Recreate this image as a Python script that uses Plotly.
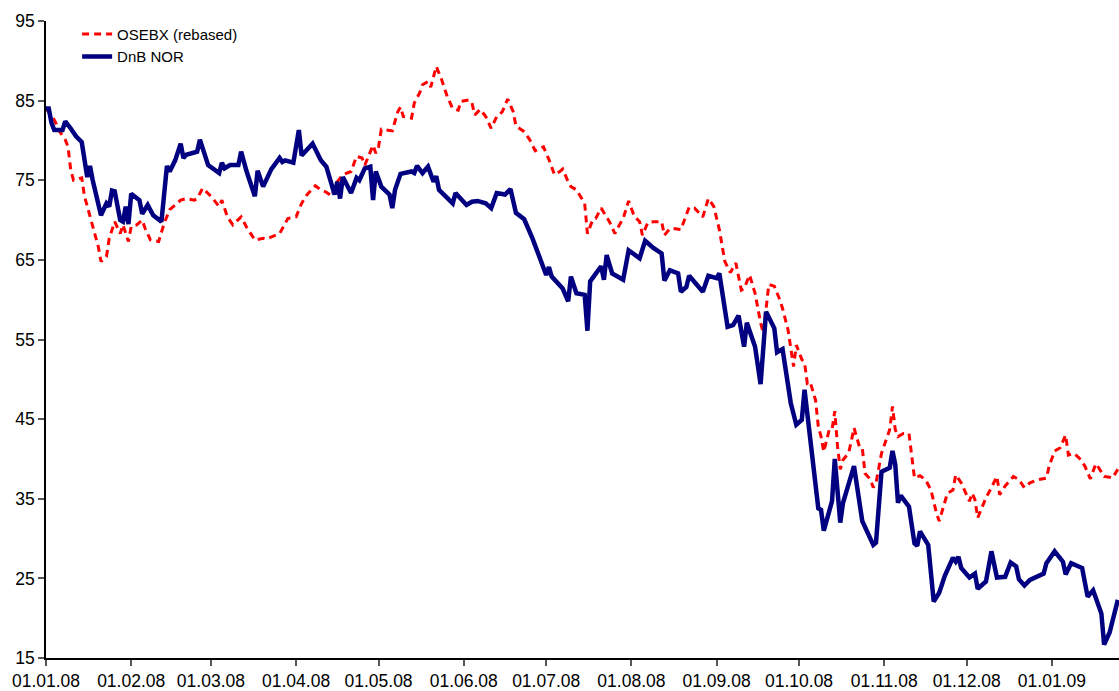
import plotly.graph_objects as go

# ---- data ----
osebx_dates = [
    "2008-01-01", "2008-01-04", "2008-01-06", "2008-01-08", "2008-01-09", "2008-01-10", "2008-01-11",
    "2008-01-14", "2008-01-15", "2008-01-17", "2008-01-18", "2008-01-20", "2008-01-21", "2008-01-23",
    "2008-01-24", "2008-01-26", "2008-01-28", "2008-01-29", "2008-01-31", "2008-02-01", "2008-02-03",
    "2008-02-05", "2008-02-06", "2008-02-08", "2008-02-11", "2008-02-13", "2008-02-15", "2008-02-19",
    "2008-02-21", "2008-02-24", "2008-02-25", "2008-02-27", "2008-03-01", "2008-03-04", "2008-03-05",
    "2008-03-07", "2008-03-09", "2008-03-12", "2008-03-14", "2008-03-17", "2008-03-20", "2008-03-21",
    "2008-03-26", "2008-03-27", "2008-03-29", "2008-04-01", "2008-04-03", "2008-04-05", "2008-04-08",
    "2008-04-10", "2008-04-12", "2008-04-14", "2008-04-16", "2008-04-18", "2008-04-21", "2008-04-23",
    "2008-04-25", "2008-04-26", "2008-04-29", "2008-04-30", "2008-05-01", "2008-05-02", "2008-05-06",
    "2008-05-08", "2008-05-09", "2008-05-10", "2008-05-13", "2008-05-14", "2008-05-16", "2008-05-17",
    "2008-05-19", "2008-05-20", "2008-05-21", "2008-05-22", "2008-05-24", "2008-05-26", "2008-05-28",
    "2008-05-30", "2008-05-31", "2008-06-03", "2008-06-04", "2008-06-05", "2008-06-07", "2008-06-09",
    "2008-06-11", "2008-06-13", "2008-06-15", "2008-06-17", "2008-06-19", "2008-06-20", "2008-06-23",
    "2008-06-25", "2008-06-27", "2008-06-28", "2008-06-30", "2008-07-02", "2008-07-04", "2008-07-06",
    "2008-07-07", "2008-07-09", "2008-07-10", "2008-07-12", "2008-07-15", "2008-07-16", "2008-07-18",
    "2008-07-19", "2008-07-21", "2008-07-24", "2008-07-26", "2008-07-27", "2008-07-29", "2008-07-31",
    "2008-08-02", "2008-08-04", "2008-08-05", "2008-08-07", "2008-08-09", "2008-08-12", "2008-08-13",
    "2008-08-15", "2008-08-17", "2008-08-19", "2008-08-22", "2008-08-24", "2008-08-27", "2008-08-29",
    "2008-08-31", "2008-09-02", "2008-09-04", "2008-09-06", "2008-09-08", "2008-09-10", "2008-09-11",
    "2008-09-13", "2008-09-15", "2008-09-17", "2008-09-18", "2008-09-20", "2008-09-22", "2008-09-24",
    "2008-09-25", "2008-09-27", "2008-09-28", "2008-09-29", "2008-09-30", "2008-10-02", "2008-10-03",
    "2008-10-04", "2008-10-05", "2008-10-07", "2008-10-08", "2008-10-09", "2008-10-10", "2008-10-12",
    "2008-10-13", "2008-10-14", "2008-10-15", "2008-10-16", "2008-10-17", "2008-10-19", "2008-10-20",
    "2008-10-21", "2008-10-23", "2008-10-24", "2008-10-25", "2008-10-27", "2008-10-28", "2008-10-29",
    "2008-10-31", "2008-11-01", "2008-11-03", "2008-11-04", "2008-11-05", "2008-11-06", "2008-11-08",
    "2008-11-10", "2008-11-12", "2008-11-14", "2008-11-16", "2008-11-18", "2008-11-20", "2008-11-21",
    "2008-11-23", "2008-11-24", "2008-11-26", "2008-11-27", "2008-11-29", "2008-12-01", "2008-12-02",
    "2008-12-03", "2008-12-04", "2008-12-05", "2008-12-08", "2008-12-10", "2008-12-12", "2008-12-13",
    "2008-12-15", "2008-12-18", "2008-12-20", "2008-12-22", "2008-12-24", "2008-12-27", "2008-12-30",
    "2008-12-31", "2009-01-02", "2009-01-04", "2009-01-06", "2009-01-07", "2009-01-09", "2009-01-11",
    "2009-01-13", "2009-01-15", "2009-01-17", "2009-01-18", "2009-01-20", "2009-01-22", "2009-01-23",
    "2009-01-25",
]
osebx_values = [
    84.0, 82.6, 81.1, 80.1, 79.2, 76.3, 75.0,
    75.3, 73.0, 70.4, 69.2, 66.7, 64.8, 65.4,
    67.7, 69.8, 68.3, 69.4, 67.3, 69.2, 69.4,
    70.0, 69.0, 67.5, 67.3, 69.6, 71.3, 72.5,
    72.7, 72.5, 72.7, 74.0, 73.0, 71.7, 72.5,
    70.4, 69.4, 70.4, 69.1, 67.5, 67.7, 67.6,
    68.3, 69.0, 70.2, 70.4, 72.1, 73.2, 74.3,
    73.8, 73.5, 73.0, 74.8, 75.7, 76.1, 78.0,
    77.8, 76.9, 79.4, 78.4, 79.2, 81.4, 81.2,
    83.6, 84.2, 83.0, 82.8, 84.7, 86.0, 87.0,
    87.4, 86.7, 88.0, 89.3, 87.6, 85.5, 84.0,
    83.8, 84.9, 85.1, 84.7, 83.2, 83.9, 83.0,
    81.5, 83.0, 83.6, 85.2, 83.6, 81.8, 81.1,
    80.1, 78.7, 78.9, 79.2, 77.6, 75.7, 76.1,
    76.4, 74.8, 74.2, 73.8, 72.1, 68.3, 70.1,
    70.2, 71.5, 69.8, 68.3, 69.0, 70.2, 72.4,
    70.5, 69.8, 68.1, 69.7, 69.8, 69.8, 68.1,
    68.9, 68.9, 68.8, 71.6, 71.5, 70.4, 72.7,
    71.7, 68.8, 64.8, 63.4, 64.6, 61.2, 61.4,
    63.1, 60.8, 57.1, 55.8, 61.9, 61.7, 60.0,
    58.9, 56.2, 53.9, 51.6, 54.3, 52.5, 52.1,
    49.5, 49.7, 47.4, 44.1, 42.8, 40.9, 43.7,
    43.7, 46.0, 41.6, 38.7, 39.9, 40.7, 42.2,
    43.9, 41.5, 41.4, 38.2, 37.4, 36.4, 37.0,
    40.7, 41.8, 43.7, 46.6, 43.7, 42.8, 43.2,
    43.2, 37.6, 37.9, 37.4, 36.1, 33.2, 32.2,
    34.5, 35.7, 36.1, 38.0, 37.0, 35.3, 34.7,
    35.7, 34.9, 32.6, 35.1, 36.4, 37.8, 35.5,
    36.6, 37.8, 37.4, 36.4, 37.0, 37.4, 37.6,
    39.1, 41.0, 41.4, 43.0, 40.5, 40.7, 40.1,
    39.1, 37.5, 39.4, 38.9, 37.8, 37.7, 37.6,
    38.7,
]

dnb_dates = [
    "2008-01-01", "2008-01-02", "2008-01-03", "2008-01-04", "2008-01-07", "2008-01-08", "2008-01-10",
    "2008-01-12", "2008-01-14", "2008-01-16", "2008-01-17", "2008-01-18", "2008-01-21", "2008-01-23",
    "2008-01-24", "2008-01-25", "2008-01-26", "2008-01-28", "2008-01-29", "2008-01-30", "2008-01-31",
    "2008-02-01", "2008-02-04", "2008-02-05", "2008-02-07", "2008-02-09", "2008-02-12", "2008-02-14",
    "2008-02-15", "2008-02-17", "2008-02-19", "2008-02-20", "2008-02-21", "2008-02-25", "2008-02-26",
    "2008-02-29", "2008-03-04", "2008-03-05", "2008-03-06", "2008-03-08", "2008-03-11", "2008-03-12",
    "2008-03-14", "2008-03-17", "2008-03-18", "2008-03-20", "2008-03-23", "2008-03-26", "2008-03-27",
    "2008-03-28", "2008-03-31", "2008-04-02", "2008-04-03", "2008-04-07", "2008-04-10", "2008-04-12",
    "2008-04-15", "2008-04-16", "2008-04-17", "2008-04-18", "2008-04-21", "2008-04-23", "2008-04-24",
    "2008-04-26", "2008-04-28", "2008-04-29", "2008-04-30", "2008-05-02", "2008-05-05", "2008-05-06",
    "2008-05-07", "2008-05-09", "2008-05-13", "2008-05-14", "2008-05-15", "2008-05-17", "2008-05-19",
    "2008-05-21", "2008-05-22", "2008-05-23", "2008-05-28", "2008-05-29", "2008-06-02", "2008-06-04",
    "2008-06-06", "2008-06-09", "2008-06-11", "2008-06-13", "2008-06-16", "2008-06-18", "2008-06-20",
    "2008-06-23", "2008-06-26", "2008-06-29", "2008-07-01", "2008-07-02", "2008-07-03", "2008-07-07",
    "2008-07-09", "2008-07-10", "2008-07-12", "2008-07-15", "2008-07-16", "2008-07-17", "2008-07-21",
    "2008-07-22", "2008-07-23", "2008-07-25", "2008-07-29", "2008-07-31", "2008-08-04", "2008-08-06",
    "2008-08-09", "2008-08-12", "2008-08-13", "2008-08-15", "2008-08-18", "2008-08-19", "2008-08-21",
    "2008-08-22", "2008-08-27", "2008-08-29", "2008-09-01", "2008-09-02", "2008-09-05", "2008-09-07",
    "2008-09-09", "2008-09-11", "2008-09-12", "2008-09-15", "2008-09-17", "2008-09-19", "2008-09-22",
    "2008-09-23", "2008-09-25", "2008-09-28", "2008-09-30", "2008-10-02", "2008-10-03", "2008-10-08",
    "2008-10-09", "2008-10-10", "2008-10-13", "2008-10-14", "2008-10-16", "2008-10-17", "2008-10-21",
    "2008-10-24", "2008-10-28", "2008-10-29", "2008-10-31", "2008-11-03", "2008-11-04", "2008-11-05",
    "2008-11-06", "2008-11-07", "2008-11-10", "2008-11-12", "2008-11-13", "2008-11-14", "2008-11-17",
    "2008-11-19", "2008-11-21", "2008-11-23", "2008-11-26", "2008-11-27", "2008-11-28", "2008-11-29",
    "2008-12-02", "2008-12-04", "2008-12-05", "2008-12-08", "2008-12-10", "2008-12-12", "2008-12-15",
    "2008-12-17", "2008-12-19", "2008-12-20", "2008-12-22", "2008-12-24", "2008-12-29", "2008-12-30",
    "2009-01-02", "2009-01-05", "2009-01-06", "2009-01-08", "2009-01-12", "2009-01-14", "2009-01-16",
    "2009-01-19", "2009-01-20", "2009-01-22", "2009-01-25",
]
dnb_values = [
    84.0, 84.0, 82.2, 81.3, 81.3, 82.4, 81.5,
    80.5, 79.8, 75.4, 76.8, 75.0, 70.6, 72.1,
    71.7, 73.7, 73.6, 70.0, 69.8, 71.7, 69.5,
    73.3, 72.5, 70.8, 71.9, 70.6, 69.8, 76.8,
    76.1, 77.5, 79.6, 77.8, 78.2, 78.6, 80.1,
    76.9, 75.9, 77.2, 76.5, 76.9, 76.9, 78.6,
    76.1, 73.0, 76.2, 74.2, 76.4, 77.8, 77.3,
    77.5, 77.2, 81.3, 78.1, 79.6, 77.5, 76.7,
    73.2, 74.8, 72.7, 75.4, 73.4, 75.3, 75.0,
    76.5, 76.7, 72.5, 76.1, 74.2, 73.2, 71.5,
    73.8, 75.8, 76.1, 75.9, 76.8, 75.9, 76.7,
    74.8, 75.5, 73.8, 72.1, 73.4, 71.9, 72.3,
    72.4, 72.1, 71.5, 73.4, 73.2, 73.9, 70.9,
    70.1, 67.7, 65.0, 63.1, 64.1, 62.9, 61.4,
    59.8, 62.9, 60.8, 60.6, 56.1, 62.3, 64.2,
    62.5, 65.6, 63.3, 62.5, 66.2, 65.2, 67.4,
    66.5, 65.8, 62.4, 63.7, 63.3, 61.0, 61.6,
    63.0, 61.0, 63.0, 62.7, 63.3, 56.6, 56.8,
    58.0, 54.1, 57.1, 54.1, 49.4, 58.5, 56.4,
    53.4, 53.8, 47.0, 44.3, 44.9, 48.7, 33.8,
    33.6, 31.0, 34.7, 40.0, 32.0, 34.5, 39.1,
    32.2, 29.2, 29.5, 38.4, 38.9, 41.0, 39.3,
    34.5, 35.4, 34.0, 29.4, 29.1, 30.9, 29.2,
    22.1, 23.2, 25.3, 27.6, 27.1, 27.7, 26.3,
    25.1, 25.6, 23.7, 24.6, 28.4, 25.1, 25.2,
    27.0, 26.5, 24.9, 24.1, 24.8, 25.6, 26.9,
    28.4, 27.1, 25.5, 26.9, 26.3, 22.7, 23.5,
    20.6, 16.7, 18.2, 22.3,
]

tick_dates = ["2008-01-01", "2008-02-01", "2008-03-01", "2008-04-01", "2008-05-01",
              "2008-06-01", "2008-07-01", "2008-08-01", "2008-09-01", "2008-10-01",
              "2008-11-01", "2008-12-01", "2009-01-01"]
tick_labels = ["01.01.08", "01.02.08", "01.03.08", "01.04.08", "01.05.08", "01.06.08",
               "01.07.08", "01.08.08", "01.09.08", "01.10.08", "01.11.08", "01.12.08",
               "01.01.09"]
y_ticks = [15, 25, 35, 45, 55, 65, 75, 85, 95]

FONT = "Liberation Sans, Arial, sans-serif"

fig = go.Figure()
fig.add_trace(go.Scatter(
    x=osebx_dates, y=osebx_values, mode="lines", name="OSEBX (rebased)",
    line=dict(color="#FF0000", width=3, dash="7px,5px"),
))
fig.add_trace(go.Scatter(
    x=dnb_dates, y=dnb_values, mode="lines", name="DnB NOR",
    line=dict(color="#000080", width=4.5),
))

fig.update_layout(
    width=1119, height=691,
    margin=dict(l=46, r=0, t=21, b=33),
    paper_bgcolor="white", plot_bgcolor="white",
    font=dict(family=FONT, color="black", size=17),
    showlegend=True,
    legend=dict(
        x=0.029, y=1.005, xanchor="left", yanchor="top",
        bgcolor="rgba(0,0,0,0)", font=dict(family=FONT, size=15, color="black"),
        tracegroupgap=0, itemwidth=30,
    ),
    xaxis=dict(
        type="date",
        range=["2008-01-01", "2009-01-25 10:00"],
        tickmode="array", tickvals=tick_dates, ticktext=tick_labels,
        showgrid=False, zeroline=False,
        showline=True, linecolor="black", linewidth=1.5,
        ticks="outside", ticklen=6, tickcolor="#555555", tickwidth=1.5,
        tickfont=dict(family=FONT, size=17.5, color="black"),
    ),
    yaxis=dict(
        range=[15, 95],
        tickmode="array", tickvals=y_ticks,
        showgrid=False, zeroline=False,
        showline=True, linecolor="black", linewidth=1.5,
        ticks="outside", ticklen=6, tickcolor="#555555", tickwidth=1.5,
        tickfont=dict(family=FONT, size=17.5, color="black"),
    ),
)

# remove the browser's default 8px page margin so the figure fills the window exactly
fig.write_html(
    "out.html",
    config={"displayModeBar": False},
    post_script="document.body.style.margin='0';document.body.style.overflow='hidden';",
)
